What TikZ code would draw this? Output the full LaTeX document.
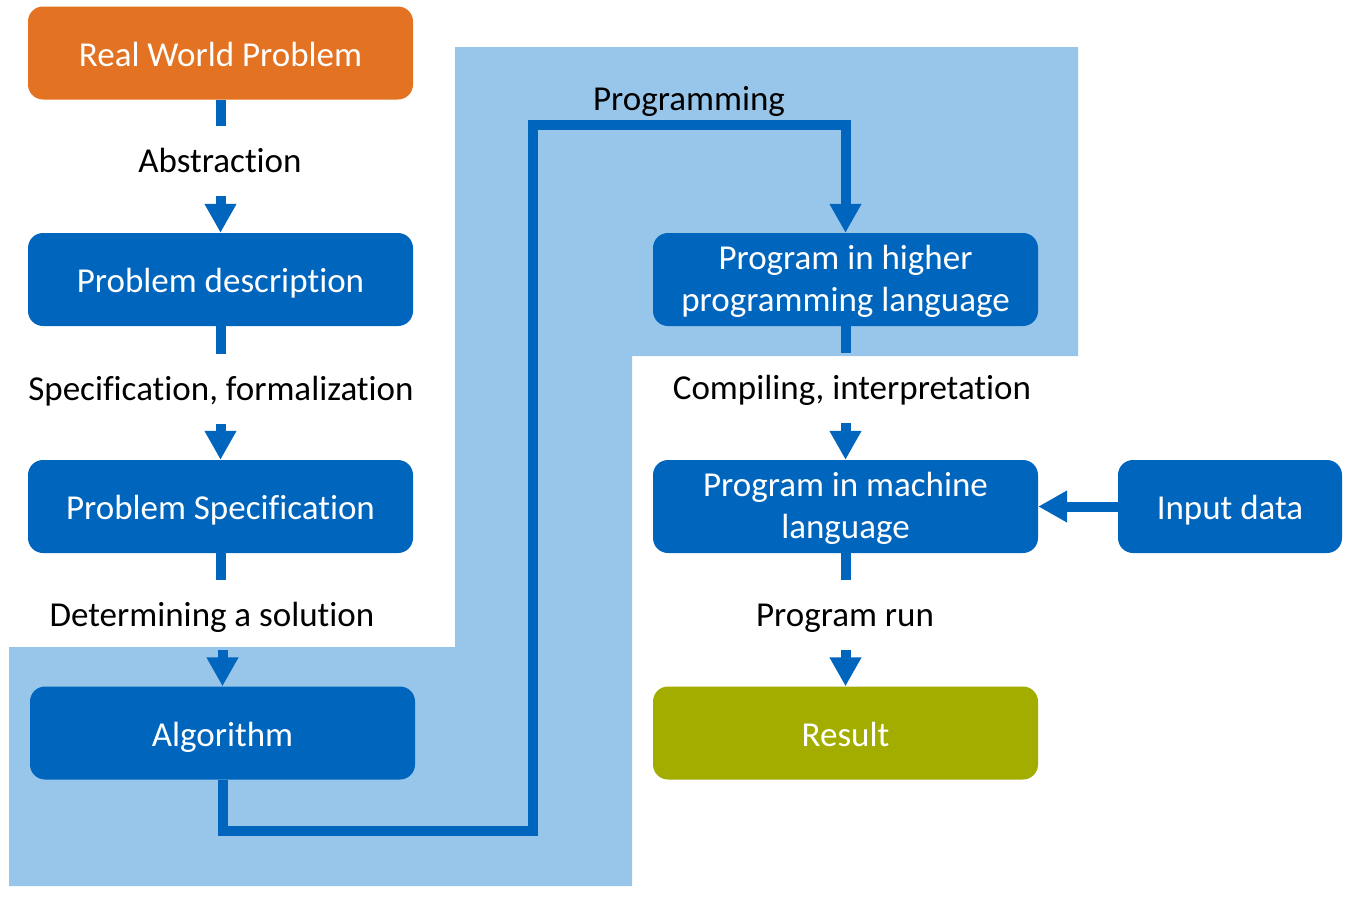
\documentclass[tikz,border=0pt]{standalone}
\usepackage{fontspec}
\setmainfont{Carlito}[Ligatures={NoCommon}]
\usetikzlibrary{arrows.meta}
\definecolor{tumblue}{HTML}{0065BD}
\definecolor{tumlight}{HTML}{98C6EA}
\definecolor{tumorange}{HTML}{E37222}
\definecolor{tumgreen}{HTML}{A2AD00}
\tikzset{
  box/.style={rounded corners=15pt, fill=tumblue, text=white, minimum width=385pt,
    minimum height=93pt, inner sep=0pt, align=center,
    font=\fontsize{35}{42}\selectfont},
  oneline/.style={text height=32pt, text depth=6pt},
  twoline/.style={text depth=2pt},
  lbl/.style={text=black, minimum height=70pt, inner sep=0pt,
    text height=30pt, text depth=8pt,
    font=\fontsize{35}{42}\selectfont},
  conn/.style={draw=tumblue, line width=10pt},
  arr/.style={conn, -{Triangle[width=30pt,length=29pt]}},
}
\begin{document}
\begin{tikzpicture}[x=1pt,y=-1pt]
\useasboundingbox (0,0) rectangle (1352,897);
\fill[tumlight] (455,47) -- (1078,47) -- (1078,356) -- (632,356) -- (632,886) -- (9,886) -- (9,647) -- (455,647) -- cycle;

\node[box, oneline, fill=tumorange] (rwp) at (220.5,53) {Real World Problem};
\node[box, oneline] (pd) at (220.5,279.5) {Problem description};
\node[box, oneline] (ps) at (220.5,506.5) {Problem Specification};
\node[box, oneline] (alg) at (222.5,733) {Algorithm};
\node[box, twoline] (high) at (845.5,279.5) {Program in higher\\programming language};
\node[box, twoline] (mach) at (845.5,506.5) {Program in machine\\language};
\node[box, oneline, minimum width=224pt] (inp) at (1230,506.5) {Input data};
\node[box, oneline, fill=tumgreen] (res) at (845.5,733) {Result};

\node[lbl] (abs) at (220,161) {Abstraction};
\node[lbl] (spec) at (221,389) {Specification, formalization};
\node[lbl] (det) at (212,615) {Determining a solution};
\node[lbl] (prog) at (689,99) {Programming};
\node[lbl] (comp) at (852,388) {Compiling, interpretation};
\node[lbl] (run) at (845,615) {Program run};

\coordinate (c1) at (533,831);
\coordinate (c2) at (533,125);

\draw[conn] (rwp.south) -- (rwp.south |- abs.north);
\draw[arr] (pd.north |- abs.south) -- (pd.north);
\draw[conn] (pd.south) -- (pd.south |- spec.north);
\draw[arr] (ps.north |- spec.south) -- (ps.north);
\draw[conn] (ps.south) -- (ps.south |- det.north);
\draw[arr] (alg.north |- det.south) -- (alg.north);
\draw[arr, line join=miter] (alg.south) |- (c1) -- (c2) -| (high.north);
\draw[conn] (high.south) -- (high.south |- comp.north);
\draw[arr] (mach.north |- comp.south) -- (mach.north);
\draw[arr] (inp.west) -- (mach.east);
\draw[conn] (mach.south) -- (mach.south |- run.north);
\draw[arr] (res.north |- run.south) -- (res.north);
\end{tikzpicture}
\end{document}
